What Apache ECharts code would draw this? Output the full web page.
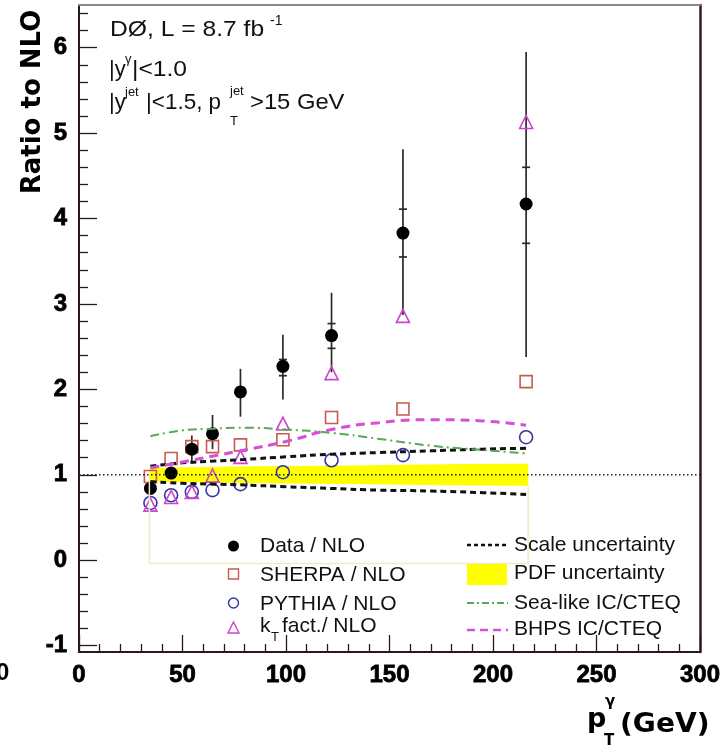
<!DOCTYPE html>
<html><head><meta charset="utf-8">
<script src="https://cdn.jsdelivr.net/npm/echarts@6/dist/echarts.min.js"></script>
<style>html,body{margin:0;padding:0;background:#fff}#c{width:727px;height:751px}</style>
</head><body><div id="c"></div><script>
// ---- data ----
const ptGeV = [34.5, 44.5, 54.5, 64.5, 78, 98.5, 122, 156.5, 216];
const dataRatio = [0.84, 1.02, 1.30, 1.48, 1.97, 2.27, 2.63, 3.83, 4.17];
const dataTotLow = [0.79, 0.95, 1.13, 1.30, 1.68, 1.88, 2.20, 2.87, 2.38];
const dataTotHigh = [0.89, 1.09, 1.46, 1.70, 2.24, 2.64, 3.13, 4.81, 5.95];
const dataStatLow = [0.82, 0.99, 1.25, 1.43, 1.92, 2.16, 2.48, 3.55, 3.71];
const dataStatHigh = [0.86, 1.05, 1.35, 1.53, 2.02, 2.35, 2.77, 4.11, 4.60];
const sherpa = [0.98, 1.19, 1.33, 1.33, 1.35, 1.41, 1.67, 1.77, 2.09];
const pythia = [0.67, 0.76, 0.80, 0.82, 0.89, 1.03, 1.17, 1.23, 1.44];
const ktFact = [0.65, 0.74, 0.80, 0.99, 1.21, 1.60, 2.19, 2.86, 5.13];

const curveGeV = [34.5, 50, 65, 80, 100, 122, 145, 170, 195, 216];
const scaleUp = [1.10, 1.14, 1.16, 1.18, 1.21, 1.24, 1.26, 1.28, 1.30, 1.31];
const scaleDown = [0.92, 0.90, 0.89, 0.88, 0.86, 0.84, 0.82, 0.81, 0.79, 0.77];
const seaLike = [1.45, 1.52, 1.54, 1.55, 1.53, 1.49, 1.42, 1.34, 1.29, 1.25];
const bhps = [1.08, 1.15, 1.22, 1.29, 1.39, 1.53, 1.61, 1.645, 1.63, 1.58];

const pdfGeV = [34, 60, 90, 120, 150, 185, 217];
const pdfLow = [0.92, 0.91, 0.90, 0.895, 0.885, 0.875, 0.87];
const pdfHigh = [1.08, 1.09, 1.10, 1.105, 1.115, 1.125, 1.13];
const pdfOutline = [[34, 0.92], [34, -0.04], [217, -0.04], [217, 0.87]];
const unityLine = [[0, 1], [300, 1]];

const xTicks = [0, 50, 100, 150, 200, 250, 300];
const yTicks = [-1, 0, 1, 2, 3, 4, 5, 6];
const yMinor = [];
for (let v = -1; v < 6.5; v += 0.2) { const r = Math.round(v * 10) / 10; if (Math.abs(r - Math.round(r)) > 1e-6) yMinor.push(r); }

// ---- chart ----
const chart = echarts.init(document.getElementById('c'));
const AX = '#2b1818';
const pairs = (xs, ys) => xs.map((x, i) => [x, ys[i]]);
const txt = (x, y, text, size, o = {}) => ({
  type: 'text', x, y, silent: true, scaleX: o.sx || 1, scaleY: o.sy || 1, rotation: o.rot || 0, z: 100,
  style: { text, fontSize: size, fontFamily: o.ff || 'Liberation Sans', fontWeight: o.fw || 'normal',
    fill: o.fill || '#111', align: o.align || 'left', verticalAlign: 'middle' }
});
const hollow = (c) => ({ color: 'rgba(0,0,0,0)', borderColor: c, borderWidth: 1.6, opacity: 1 });

const graphic = [
  // annotation
  txt(110, 30, 'DØ, L = 8.7 fb', 22, { sx: 1.12 }),
  txt(270, 21, '-1', 14),
  txt(109, 70, '|y', 22),
  txt(125, 59, 'γ', 13),
  txt(132, 70, '|<1.0', 22, { sx: 1.12 }),
  txt(109, 103, '|y', 22),
  txt(125, 92, 'jet', 13),
  txt(146, 103, '|<1.5, p', 22, { sx: 1.02 }),
  txt(230, 91, 'jet', 13),
  txt(230, 121, 'T', 13),
  txt(250, 103, '>15 GeV', 22, { sx: 1.08 }),
  // axis titles
  txt(33, 102, 'Ratio to NLO', 26, { ff: 'DejaVu Sans', fw: 'bold', rot: Math.PI / 2, align: 'center', fill: '#000' }),
  txt(587, 720, 'p', 27, { ff: 'DejaVu Sans', fw: 'bold', fill: '#000' }),
  txt(605, 702, 'γ', 15, { ff: 'DejaVu Sans', fw: 'bold', fill: '#000' }),
  txt(604, 741, 'T', 15, { ff: 'DejaVu Sans', fw: 'bold', fill: '#000' }),
  txt(620, 725, '(GeV)', 27, { ff: 'DejaVu Sans', fw: 'bold', fill: '#000', sx: 1.04 }),
  txt(-4, 673, '0', 24, { fw: 'bold', fill: '#000' }),
  // legend left
  { type: 'circle', shape: { cx: 233.5, cy: 546, r: 5.5 }, style: { fill: '#000' }, z: 100 },
  { type: 'rect', shape: { x: 228.5, y: 569, width: 10, height: 10 }, style: { fill: 'none', stroke: '#c85a50', lineWidth: 1.4 }, z: 100 },
  { type: 'circle', shape: { cx: 233.5, cy: 603, r: 5 }, style: { fill: 'none', stroke: '#3535a5', lineWidth: 1.4 }, z: 100 },
  { type: 'polygon', shape: { points: [[233.5, 622], [239, 633], [228, 633]] }, style: { fill: 'none', stroke: '#cc44cc', lineWidth: 1.4 }, z: 100 },
  txt(260, 546, 'Data / NLO', 21),
  txt(260, 575, 'SHERPA / NLO', 21),
  txt(260, 604, 'PYTHIA / NLO', 21),
  txt(260, 626, 'k', 21),
  txt(271, 637, 'T', 13),
  txt(282, 626, 'fact./ NLO', 21),
  // legend right
  { type: 'line', shape: { x1: 467, y1: 545, x2: 508, y2: 545 }, style: { stroke: '#111', lineWidth: 2.5, lineDash: [4, 3] }, z: 100 },
  { type: 'rect', shape: { x: 467, y: 564, width: 40, height: 21 }, style: { fill: '#ffff00' }, z: 100 },
  { type: 'line', shape: { x1: 467, y1: 603, x2: 508, y2: 603 }, style: { stroke: '#55aa55', lineWidth: 1.8, lineDash: [7, 3, 2, 3] }, z: 100 },
  { type: 'line', shape: { x1: 467, y1: 630, x2: 508, y2: 630 }, style: { stroke: '#d64fd6', lineWidth: 2.5, lineDash: [8, 5] }, z: 100 },
  txt(514, 545, 'Scale uncertainty', 21),
  txt(514, 573, 'PDF uncertainty', 21),
  txt(514, 603, 'Sea-like IC/CTEQ', 21),
  txt(514, 629, 'BHPS IC/CTEQ', 21)
];

const bandData = pdfGeV.map((x, i) => [x, pdfLow[i], pdfHigh[i]]);

const option = {
  animation: false,
  backgroundColor: '#fff',
  grid: { left: 79, right: 27, top: 5, bottom: 99, containLabel: false },
  xAxis: [{
    type: 'value', min: 0, max: 300, interval: 50, position: 'bottom',
    axisLine: { show: true, onZero: false, lineStyle: { color: AX, width: 2 } },
    axisTick: { show: true, inside: true, length: 17, lineStyle: { color: AX, width: 1.3 } },
    minorTick: { show: true, splitNumber: 5, length: 8, lineStyle: { color: AX, width: 1.3 } },
    splitLine: { show: false }, minorSplitLine: { show: false },
    axisLabel: { fontSize: 24, fontWeight: 'bold', fontFamily: 'Liberation Sans', color: '#000', margin: 11,
      textBorderColor: '#000', textBorderWidth: 0.8 }
  }, {
    type: 'value', min: 0, max: 300, position: 'top',
    axisLine: { show: true, onZero: false, lineStyle: { color: '#8a8a8a', width: 2 } },
    axisTick: { show: false }, axisLabel: { show: false }, splitLine: { show: false }
  }],
  yAxis: [{
    type: 'value', min: -1.075, max: 6.5, position: 'left',
    axisLine: { show: true, onZero: false, lineStyle: { color: AX, width: 2 } },
    axisTick: { show: true, inside: true, length: 18, customValues: yTicks, lineStyle: { color: AX, width: 1.3 } },
    splitLine: { show: false },
    axisLabel: { customValues: yTicks, fontSize: 24, fontWeight: 'bold', fontFamily: 'Liberation Sans', color: '#000', margin: 12,
      textBorderColor: '#000', textBorderWidth: 0.8, formatter: v => String(Math.round(v)) }
  }, {
    type: 'value', min: -1.075, max: 6.5, position: 'left', offset: 0,
    axisLine: { show: false },
    axisTick: { show: true, inside: true, length: 9, customValues: yMinor, lineStyle: { color: AX, width: 1.3 } },
    axisLabel: { show: false }, splitLine: { show: false }
  }, {
    type: 'value', min: -1.075, max: 6.5, position: 'right', offset: 0,
    axisLine: { show: true, onZero: false, lineStyle: { color: '#3a1a1f', width: 2.5 } },
    axisTick: { show: false }, axisLabel: { show: false }, splitLine: { show: false }
  }],
  series: [
    { type: 'line', data: pdfOutline, symbol: 'none', silent: true,
      lineStyle: { color: '#ecedc8', width: 1.5 } },
    { type: 'custom', silent: true, data: bandData, encode: { x: 0, y: [1, 2] },
      renderItem(params, api) {
        if (params.dataIndex !== 0) return null;
        const top = [], bot = [];
        for (let i = 0; i < bandData.length; i++) {
          top.push(api.coord([bandData[i][0], bandData[i][2]]));
          bot.unshift(api.coord([bandData[i][0], bandData[i][1]]));
        }
        return { type: 'polygon', shape: { points: top.concat(bot), smooth: 0 }, style: { fill: '#ffff00' } };
      } },
    { type: 'line', data: unityLine, symbol: 'none', silent: true,
      lineStyle: { color: '#222', width: 1.3, type: [1.5, 2.5] } },
    { type: 'line', data: pairs(curveGeV, scaleUp), symbol: 'none', smooth: true, silent: true,
      lineStyle: { color: '#111', width: 3, type: [6, 4] } },
    { type: 'line', data: pairs(curveGeV, scaleDown), symbol: 'none', smooth: true, silent: true,
      lineStyle: { color: '#111', width: 3, type: [6, 4] } },
    { type: 'line', data: pairs(curveGeV, seaLike), symbol: 'none', smooth: true, silent: true,
      lineStyle: { color: '#55aa55', width: 2, type: [9, 4, 2, 4] } },
    { type: 'line', data: pairs(curveGeV, bhps), symbol: 'none', smooth: true, silent: true,
      lineStyle: { color: '#d64fd6', width: 3, type: [9, 6] } },
    { type: 'custom', silent: true,
      data: ptGeV.map((x, i) => [x, dataTotLow[i], dataTotHigh[i], dataStatLow[i], dataStatHigh[i]]),
      encode: { x: 0, y: [1, 2] },
      renderItem(params, api) {
        const x = api.value(0);
        const lo = api.coord([x, api.value(1)]), hi = api.coord([x, api.value(2)]);
        const sl = api.coord([x, api.value(3)]), sh = api.coord([x, api.value(4)]);
        const st = { stroke: '#2a2a2a', lineWidth: 1.7 };
        return { type: 'group', children: [
          { type: 'line', shape: { x1: lo[0], y1: lo[1], x2: hi[0], y2: hi[1] }, style: st },
          { type: 'line', shape: { x1: sl[0] - 4, y1: sl[1], x2: sl[0] + 4, y2: sl[1] }, style: st },
          { type: 'line', shape: { x1: sh[0] - 4, y1: sh[1], x2: sh[0] + 4, y2: sh[1] }, style: st }
        ] };
      } },
    { type: 'scatter', data: pairs(ptGeV, sherpa), symbol: 'rect', symbolSize: 12, silent: true, itemStyle: hollow('#c85a50') },
    { type: 'scatter', data: pairs(ptGeV, pythia), symbol: 'circle', symbolSize: 13, silent: true, itemStyle: hollow('#3535a5') },
    { type: 'scatter', data: pairs(ptGeV, ktFact), symbol: 'triangle', symbolSize: 13, silent: true, itemStyle: hollow('#cc44cc') },
    { type: 'scatter', data: pairs(ptGeV, dataRatio), symbol: 'circle', symbolSize: 13, silent: true, itemStyle: { color: '#000', opacity: 1 } }
  ],
  graphic
};
chart.setOption(option);
</script></body></html>
